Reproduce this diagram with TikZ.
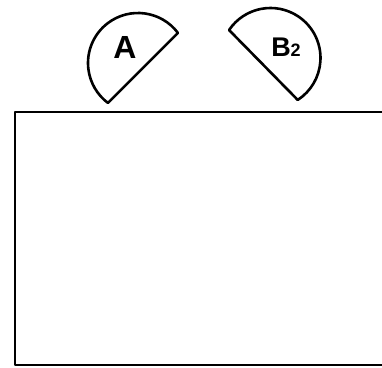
\documentclass[tikz,border=0pt]{standalone}
\usepackage{fontspec}
\setmainfont{Liberation Sans}
\begin{document}
\begin{tikzpicture}[x=1pt,y=1pt,
  outline/.style={draw=black,line width=2.6pt,line join=round},
  lbl/.style={inner sep=0pt,font=\bfseries}]
\useasboundingbox (0,0) rectangle (382,367);
% table / box (right side open, runs off the picture)
\draw[outline] (384,255) -- (15,255) -- (15,2) -- (384,2);
% segment A
\coordinate (ca) at (138,304);
\draw[outline] (ca) ++(37:50) arc[start angle=37,end angle=233,radius=50] -- cycle;
\node[lbl,font=\bfseries\fontsize{32}{32}\selectfont] (labA) at (125,320) {A};
% segment B2
\coordinate (cb) at (270.5,309);
\draw[outline] (cb) ++(146:50) arc[start angle=146,end angle=-57,radius=50] -- cycle;
\node[lbl,font=\bfseries\fontsize{27}{27}\selectfont] (labB) at (286,320) {B{\fontsize{18}{18}\selectfont 2}};
\end{tikzpicture}
\end{document}
